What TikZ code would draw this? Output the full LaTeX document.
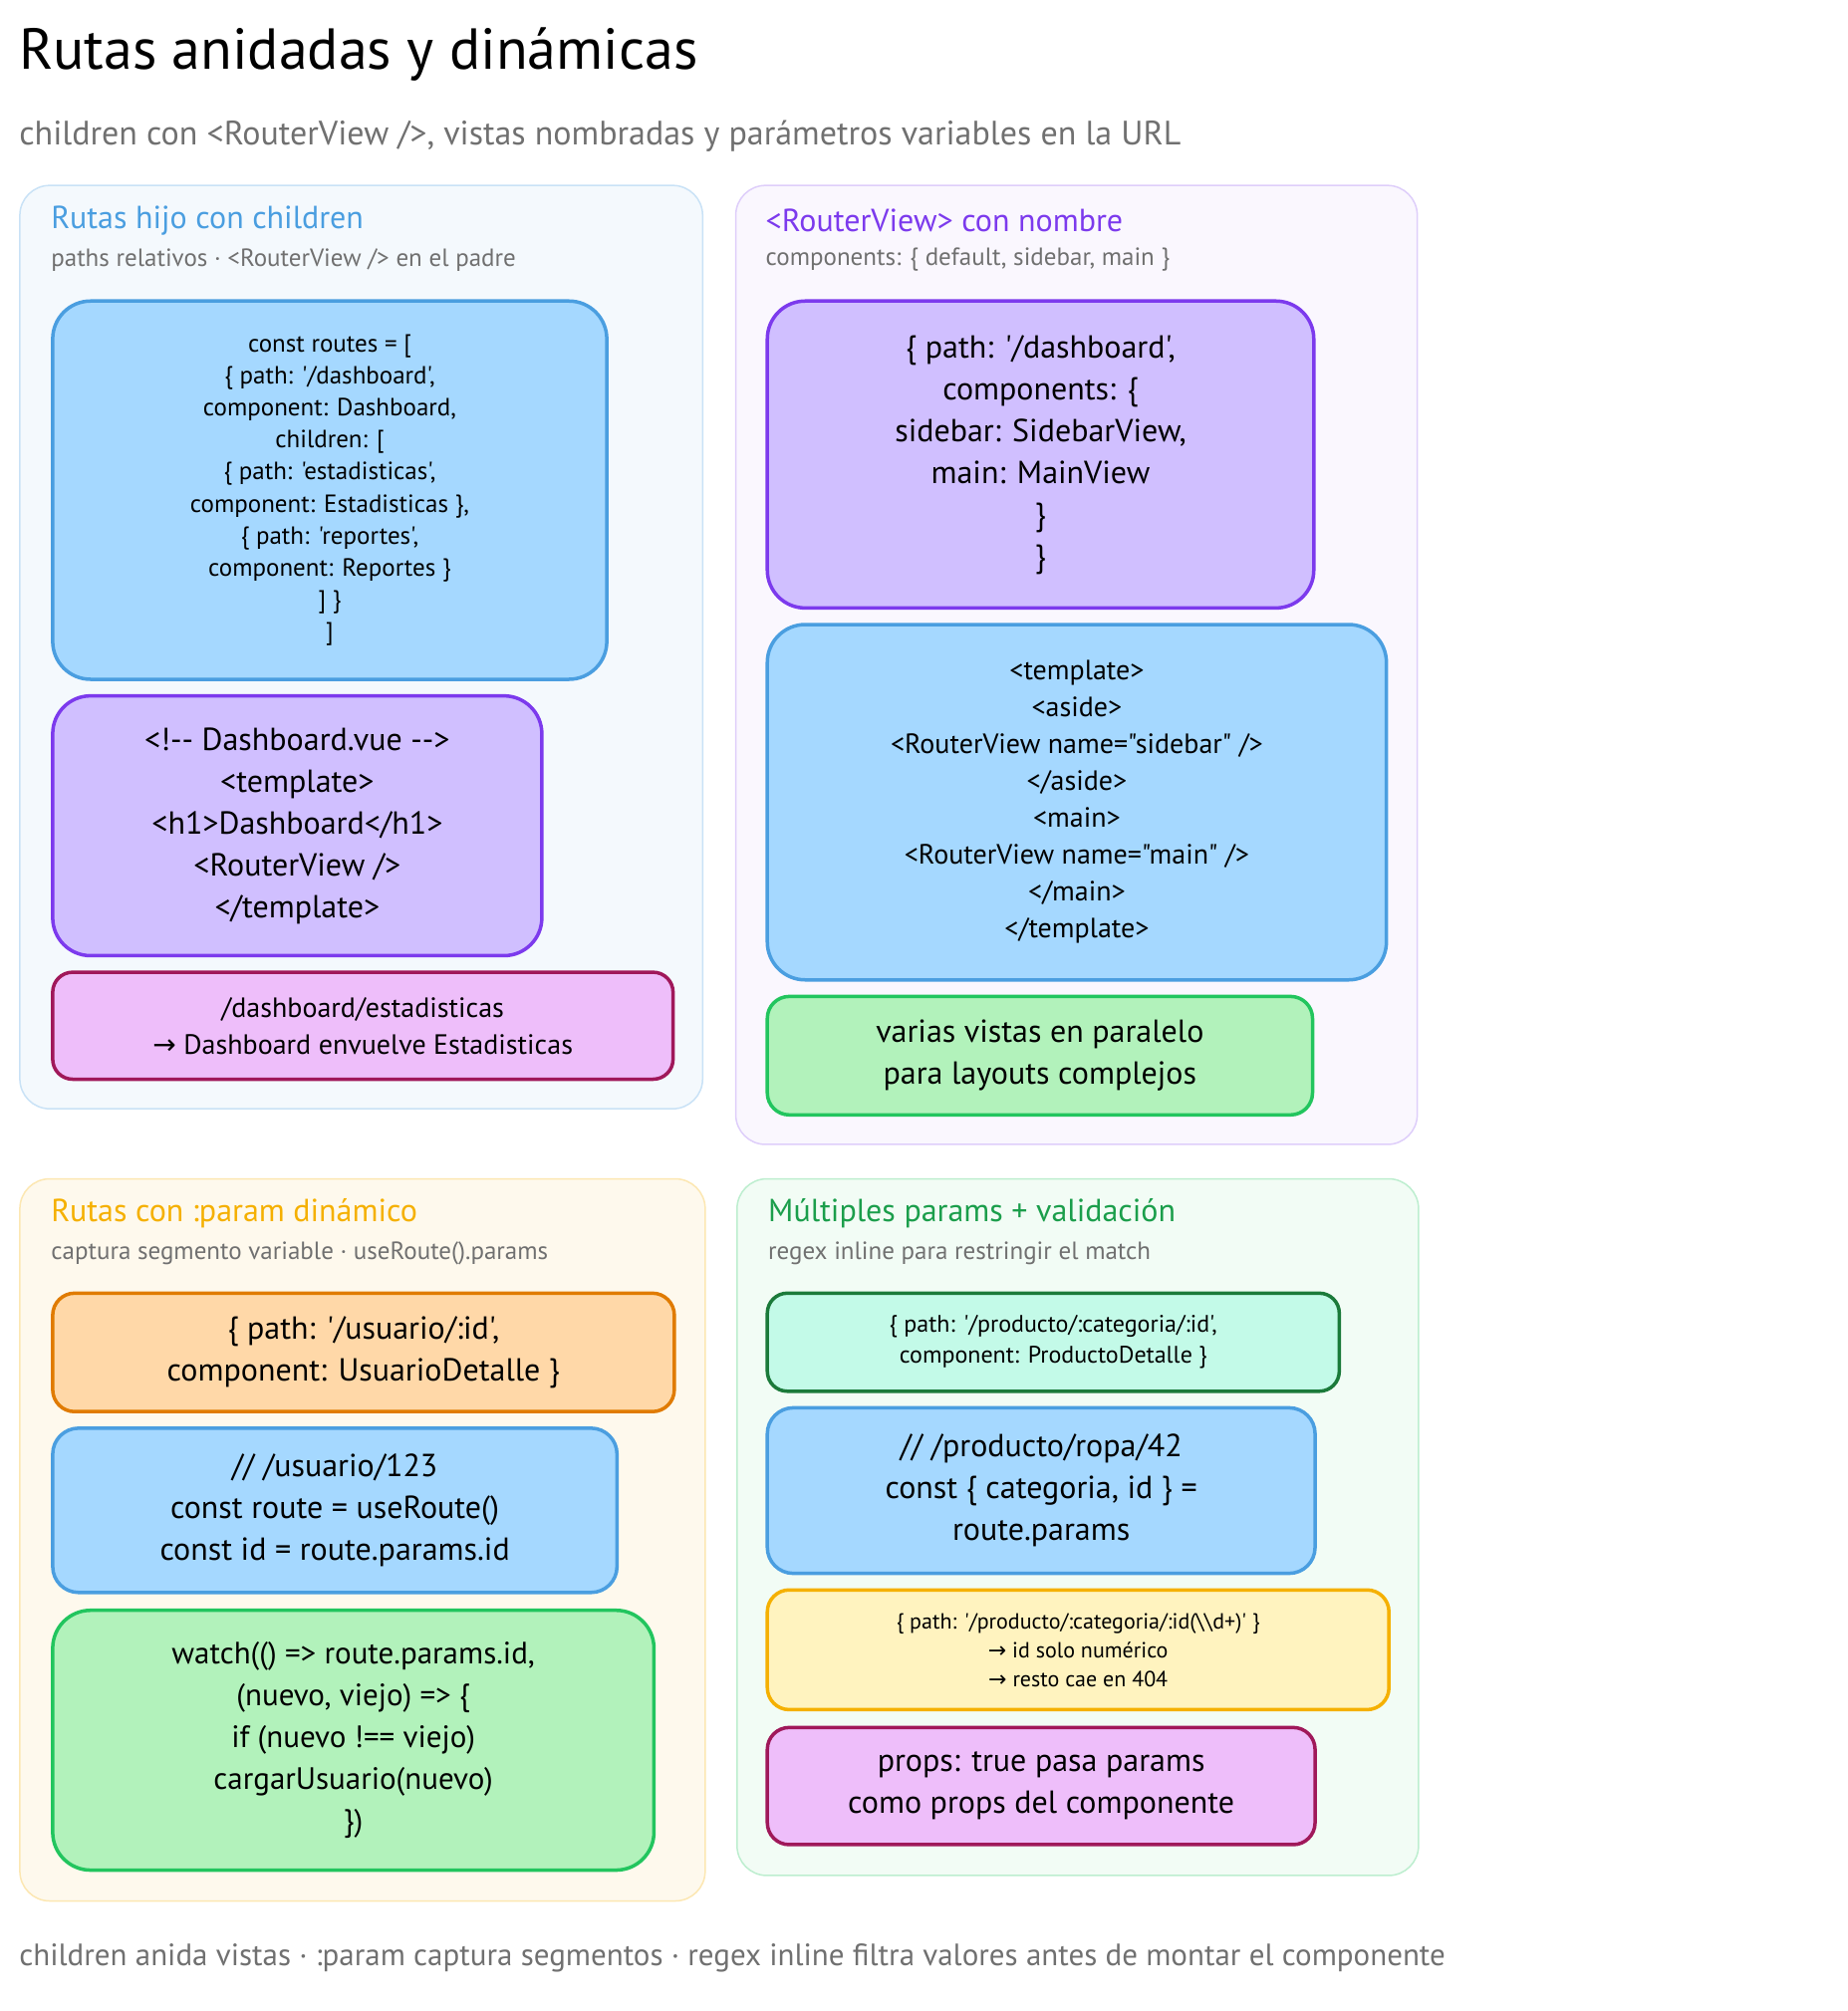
\documentclass[tikz,border=0pt]{standalone}
\usepackage{fontspec}
\setmainfont{PT Sans}
\newfontfamily\pts{PT Sans}
\newfontfamily\symf{DejaVu Sans}
\usetikzlibrary{positioning}
\definecolor{blueline}{HTML}{4A9EE0}
\definecolor{bluefill}{HTML}{A5D8FF}
\definecolor{violetline}{HTML}{7C3AED}
\definecolor{violetfill}{HTML}{D0BFFF}
\definecolor{pinkline}{HTML}{A0185A}
\definecolor{pinkfill}{HTML}{EEBEFA}
\definecolor{greenline}{HTML}{22C55E}
\definecolor{greenfill}{HTML}{B2F2BB}
\definecolor{orangeline}{HTML}{E07B00}
\definecolor{orangefill}{HTML}{FFD8A8}
\definecolor{yelline}{HTML}{F5B000}
\definecolor{yelfill}{HTML}{FFF3BF}
\definecolor{mintline}{HTML}{1B7A3A}
\definecolor{mintfill}{HTML}{C3FAE8}
\definecolor{subgray}{HTML}{707070}
\newcommand{\arr}{{\symf →}}
\newcommand{\fs}[2]{\pts\fontsize{#1}{#2}\selectfont}

\begin{document}
\begin{tikzpicture}[x=1.2786pt, y=-1.2786pt]
      \tikzstyle{panel}=[rectangle,rounded corners=30pt,line width=1.5pt,anchor=north west,inner sep=0pt]
      \tikzstyle{b}=[rectangle,rounded corners=38pt,line width=3.5pt,align=center,inner sep=0pt,anchor=north west]
      \tikzstyle{ptitle}=[anchor=west,inner sep=0pt,font=\fs{32}{38}]
      \tikzstyle{psub}=[anchor=west,inner sep=0pt,text=subgray,font=\fs{25}{30}]
      \useasboundingbox (0,0) rectangle (1450,1579);

      % title
      \node[anchor=west,inner sep=0pt,font=\fs{58}{66}] (title) at (15,43) {Rutas anidadas y dinámicas};
      \node[anchor=west,inner sep=0pt,text=subgray,font=\fs{34}{40}] (subtitle) at (15,107) {children con <RouterView />, vistas nombradas y parámetros variables en la URL};

      % panels
      \node[panel,draw=blueline!30,fill=blueline!6,minimum width=536*1.2786pt,minimum height=725*1.2786pt] (p1) at (15,145) {};
      \node[panel,draw=violetline!25,fill=violetline!4,minimum width=535*1.2786pt,minimum height=753*1.2786pt] (p2) at (577,145) {};
      \node[panel,draw=yelline!30,fill=yelline!7,minimum width=538*1.2786pt,minimum height=567*1.2786pt] (p3) at (15,925) {};
      \node[panel,draw=greenline!30,fill=greenline!6,minimum width=535*1.2786pt,minimum height=547*1.2786pt] (p4) at (578,925) {};

      \node[ptitle,text=blueline] (t1) at (40,173) {Rutas hijo con children};
      \node[psub] (s1) at (40,204) {paths relativos · <RouterView /> en el padre};
      \node[ptitle,text=violetline] (t2) at (601,173) {<RouterView> con nombre};
      \node[psub] (s2) at (601,204) {components: \{ default, sidebar, main \}};
      \node[ptitle,text=yelline] (t3) at (40,953) {Rutas con :param dinámico};
      \node[psub] (s3) at (40,984) {captura segmento variable · useRoute().params};
      \node[ptitle,text=greenline!80!black] (t4) at (603,953) {Múltiples params + validación};
      \node[psub] (s4) at (603,984) {regex inline para restringir el match};

      % panel 1 boxes
      \node[b,draw=blueline,fill=bluefill,minimum width=435*1.2786pt,minimum height=297*1.2786pt,font=\fs{25}{32}] (routes) at (40,235) {const routes = [\\\{ path: '/dashboard',\\component: Dashboard,\\children: [\\\{ path: 'estadisticas',\\component: Estadisticas \},\\\{ path: 'reportes',\\component: Reportes \}\\] \}\\]};
      \node[b,draw=violetline,fill=violetfill,minimum width=384*1.2786pt,minimum height=204*1.2786pt,font=\fs{32}{42}] (dashvue) at (40,545) {<!-- Dashboard.vue -->\\<template>\\<h1>Dashboard</h1>\\<RouterView />\\</template>};
      \node[b,draw=pinkline,fill=pinkfill,rounded corners=20pt,minimum width=487*1.2786pt,minimum height=84*1.2786pt,font=\fs{28}{37}] (nested) at (40,762) {/dashboard/estadisticas\\\arr\ Dashboard envuelve Estadisticas};

      % panel 2 boxes
      \node[b,draw=violetline,fill=violetfill,minimum width=429*1.2786pt,minimum height=241*1.2786pt,font=\fs{32}{42}] (named) at (601,235) {\{ path: '/dashboard',\\components: \{\\sidebar: SidebarView,\\main: MainView\\\}\\\}};
      \node[b,draw=blueline,fill=bluefill,minimum width=486*1.2786pt,minimum height=279*1.2786pt,font=\fs{28}{37}] (tmpl) at (601,489) {<template>\\<aside>\\<RouterView name="sidebar" />\\</aside>\\<main>\\<RouterView name="main" />\\</main>\\</template>};
      \node[b,draw=greenline,fill=greenfill,rounded corners=22pt,minimum width=428*1.2786pt,minimum height=93*1.2786pt,font=\fs{32}{42}] (parallel) at (601,781) {varias vistas en paralelo\\para layouts complejos};

      % panel 3 boxes
      \node[b,draw=orangeline,fill=orangefill,rounded corners=22pt,minimum width=488*1.2786pt,minimum height=93*1.2786pt,font=\fs{32}{42}] (usuario) at (40,1014) {\{ path: '/usuario/:id',\\component: UsuarioDetalle \}};
      \node[b,draw=blueline,fill=bluefill,rounded corners=26pt,minimum width=443*1.2786pt,minimum height=129*1.2786pt,font=\fs{32}{42}] (useroute) at (40,1120) {// /usuario/123\\const route = useRoute()\\const id = route.params.id};
      \node[b,draw=greenline,fill=greenfill,minimum width=472*1.2786pt,minimum height=204*1.2786pt,font=\fs{31}{42}] (watch) at (40,1263) {watch(() => route.params.id,\\(nuevo, viejo) => \{\\if (nuevo !== viejo)\\cargarUsuario(nuevo)\\\})};

      % panel 4 boxes
      \node[b,draw=mintline,fill=mintfill,rounded corners=20pt,minimum width=449*1.2786pt,minimum height=77*1.2786pt,font=\fs{24}{31}] (producto) at (601,1014) {\{ path: '/producto/:categoria/:id',\\component: ProductoDetalle \}};
      \node[b,draw=blueline,fill=bluefill,rounded corners=26pt,minimum width=430*1.2786pt,minimum height=130*1.2786pt,font=\fs{32}{42}] (destruct) at (601,1104) {// /producto/ropa/42\\const \{ categoria, id \} =\\route.params};
      \node[b,draw=yelline,fill=yelfill,rounded corners=22pt,minimum width=488*1.2786pt,minimum height=94*1.2786pt,font=\fs{22}{29}] (regex) at (601,1247) {\{ path: '/producto/:categoria/:id(\textbackslash\textbackslash d+)' \}\\\arr\ id solo numérico\\\arr\ resto cae en 404};
      \node[b,draw=pinkline,fill=pinkfill,rounded corners=22pt,minimum width=430*1.2786pt,minimum height=92*1.2786pt,font=\fs{32}{42}] (props) at (601,1355) {props: true pasa params\\como props del componente};

      % footer
      \node[anchor=west,inner sep=0pt,text=subgray,font=\fs{31}{36}] (footer) at (15,1537) {children anida vistas · :param captura segmentos · regex inline filtra valores antes de montar el componente};
    \end{tikzpicture}
\end{document}
